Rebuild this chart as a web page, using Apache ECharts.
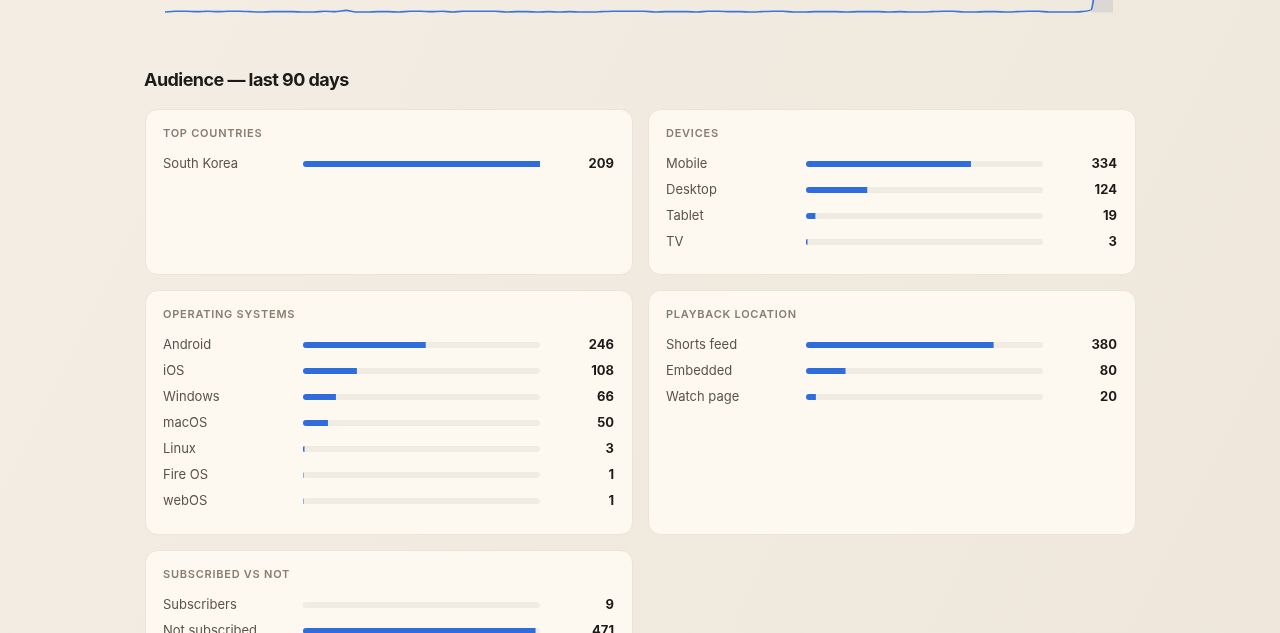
<!DOCTYPE html>
<html>
<head>
<meta charset="utf-8">
<style>
html,body{margin:0;padding:0;background:#f2ece2;}
#chart{width:1280px;height:633px;}
</style>
<script src="https://cdn.jsdelivr.net/npm/echarts@6/dist/echarts.min.js"></script>
</head>
<body>
<div id="chart"></div>
<script>
// ---- data ----
const dailyViews = [
  1,3,3,2,3,2,3,3,2,1,
  2,2,2,1,1,3,2,5,1,1,
  2,2,1,3,3,2,3,1,3,3,
  3,3,1,2,2,1,2,1,2,1,
  1,2,3,3,3,3,1,2,2,2,
  1,3,3,2,2,1,2,3,3,1,
  1,2,2,2,1,2,2,2,1,2,
  1,1,2,3,3,1,1,2,2,1,
  2,3,3,1,1,1,2,8,200,380
];
const countries = ['South Korea'];
const countryViews = [209];
const devices = ['Mobile', 'Desktop', 'Tablet', 'TV'];
const deviceViews = [334, 124, 19, 3];
const osNames = ['Android', 'iOS', 'Windows', 'macOS', 'Linux', 'Fire OS', 'webOS'];
const osViews = [246, 108, 66, 50, 3, 1, 1];
const playback = ['Shorts feed', 'Embedded', 'Watch page'];
const playbackViews = [380, 80, 20];
const subscribed = ['Subscribers', 'Not subscribed'];
const subscribedViews = [9, 471];
const subscribedBars = [0, 471]; // bar lengths as drawn in the picture

// letter spacing for the small caps headings and the tight page title
(function () {
  const P = CanvasRenderingContext2D.prototype;
  const orig = P.fillText;
  P.fillText = function (t, x, y, w) {
    const f = this.font || '';
    let ls = null;
    if (/\b11px\b/.test(f)) ls = '0.75px';
    else if (/\b18px\b/.test(f)) ls = '-0.55px';
    if (ls !== null && 'letterSpacing' in this) {
      const prev = this.letterSpacing;
      this.letterSpacing = ls;
      const r = w === undefined ? orig.call(this, t, x, y) : orig.call(this, t, x, y, w);
      this.letterSpacing = prev;
      return r;
    }
    return w === undefined ? orig.call(this, t, x, y) : orig.call(this, t, x, y, w);
  };
})();

// ---- layout ----
const FONT = 'Inter, "Noto Sans", sans-serif';
const BLUE = '#2f6ddd';
const cards = [
  {title: 'TOP COUNTRIES', x: 145, y: 109, h: 165, cats: countries, vals: countryViews, bars: countryViews},
  {title: 'DEVICES', x: 648, y: 109, h: 165, cats: devices, vals: deviceViews, bars: deviceViews},
  {title: 'OPERATING SYSTEMS', x: 145, y: 290, h: 244, cats: osNames, vals: osViews, bars: osViews},
  {title: 'PLAYBACK LOCATION', x: 648, y: 290, h: 244, cats: playback, vals: playbackViews, bars: playbackViews},
  {title: 'SUBSCRIBED VS NOT', x: 145, y: 550, h: 165, cats: subscribed, vals: subscribedViews, bars: subscribedBars}
];

const chart = echarts.init(document.getElementById('chart'), null, {renderer: 'canvas'});

const graphic = [
  {type: 'rect', z: -10, silent: true, shape: {x: 0, y: 0, width: 1280, height: 633},
   style: {fill: new echarts.graphic.LinearGradient(0, 0, 1, 1, [
     {offset: 0, color: '#f3ede4'}, {offset: 1, color: '#efe7db'}])}},
  {type: 'text', z: 5, x: 144, y: 80.5, style: {text: 'Audience \u2014 last 90 days', font: '700 18px ' + FONT,
    fill: '#1d1b18', textVerticalAlign: 'middle'}}
];

const grids = [], xAxes = [], yAxes = [], series = [];

// sparkline (previous section, mostly scrolled off)
grids.push({left: 165, right: 167, top: -287.5, bottom: 620.5, outerBoundsMode: 'none', containLabel: false});
xAxes.push({type: 'category', gridIndex: 0, boundaryGap: false, data: dailyViews.map((v, i) => 'D' + (i + 1)), show: false});
yAxes.push({type: 'value', gridIndex: 0, min: 0, max: 700, show: false});
series.push({
  type: 'line', xAxisIndex: 0, yAxisIndex: 0, data: dailyViews, showSymbol: false, smooth: 0.2,
  lineStyle: {color: '#3b74dc', width: 1.6}, silent: true,
  markArea: {silent: true, itemStyle: {color: 'rgba(200,200,204,0.55)'},
    data: [[{xAxis: 'D88'}, {xAxis: 'D90'}]]}
});

cards.forEach((c, k) => {
  const gi = k + 1;
  graphic.push({type: 'rect', z: 0, silent: true,
    shape: {x: c.x + 0.5, y: c.y + 0.5, width: 487, height: c.h, r: 12},
    style: {fill: '#fdf9f1', stroke: '#ebe4d7', lineWidth: 1}});
  graphic.push({type: 'text', z: 5, x: c.x + 18, y: c.y + 25,
    style: {text: c.title, font: '600 11px ' + FONT, fill: '#877d70', textVerticalAlign: 'middle'}});
  const total = c.vals.reduce((a, b) => a + b, 0);
  grids.push({left: c.x + 158, width: 237, top: c.y + 42, height: c.cats.length * 26, outerBoundsMode: 'none'});
  xAxes.push({type: 'value', gridIndex: gi, min: 0, max: total, show: false});
  yAxes.push({type: 'category', gridIndex: gi, inverse: true, data: c.cats,
    axisLine: {show: false}, axisTick: {show: false}, splitLine: {show: false},
    axisLabel: {align: 'left', margin: 140, color: '#5b5349', fontSize: 13, fontFamily: FONT}});
  const yi2 = yAxes.length;
  yAxes.push({type: 'category', gridIndex: gi, inverse: true, position: 'right', data: c.vals.map(String),
    axisLine: {show: false}, axisTick: {show: false}, splitLine: {show: false},
    axisLabel: {align: 'right', margin: 74, color: '#1d1b18', fontSize: 13, fontWeight: 700, fontFamily: FONT}});
  series.push({
    type: 'bar', xAxisIndex: gi, yAxisIndex: yi2 - 1, data: c.bars, barWidth: 6, silent: true,
    showBackground: true, backgroundStyle: {color: '#f1ece2', borderRadius: 3},
    itemStyle: {color: BLUE, borderRadius: [3, 0, 0, 3]}
  });
});

chart.setOption({
  animation: false,
  graphic: graphic,
  grid: grids,
  xAxis: xAxes,
  yAxis: yAxes,
  series: series
});
</script>
</body>
</html>
